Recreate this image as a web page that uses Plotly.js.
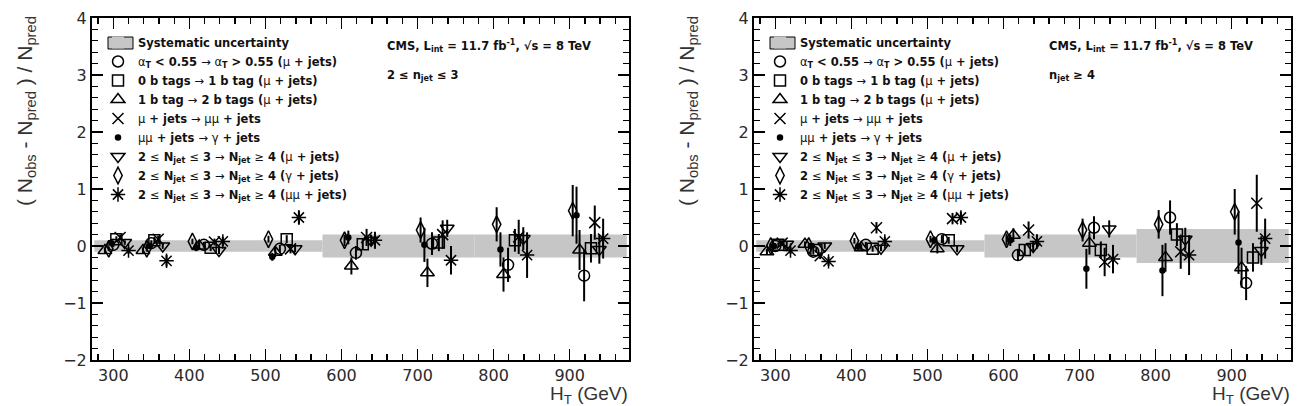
<!DOCTYPE html>
<html>
<head>
<meta charset="utf-8">
<script src="https://cdn.plot.ly/plotly-3.0.1.min.js"></script>
<style>
  html, body { margin: 0; padding: 0; background: #fff; }
  #chart { width: 1300px; height: 406px; }
</style>
</head>
<body>
<div id="chart"></div>
<script>
// H_T bins of the analysis (GeV): centres
const htBinCenters = [300, 350, 425, 525, 625, 725, 825, 925];
const narrowBinCount = 2; // the first two bins are 50 GeV wide, the rest 100 GeV

// Systematic uncertainty bands: H_T edges and half-heights per panel
const bandEdges = [275, 575, 775, 975];
const bandHalfLow = [0.1, 0.2, 0.2];   // 2 <= n_jet <= 3
const bandHalfHigh = [0.1, 0.2, 0.3];  // n_jet >= 4

// Closure tests (legend labels)
const N = (t) => '<span style="font-weight:normal">' + t + '</span>';
const testLabels = [
  N('α') + '<sub>T</sub> < 0.55 ' + N('→ α') + '<sub>T</sub> > 0.55 (' + N('μ') + ' + jets)',
  '0 b tags ' + N('→') + ' 1 b tag (' + N('μ') + ' + jets)',
  '1 b tag ' + N('→') + ' 2 b tags (' + N('μ') + ' + jets)',
  N('μ') + ' + jets ' + N('→ μμ') + ' + jets',
  N('μμ') + ' + jets ' + N('→ γ') + ' + jets',
  '2 ' + N('≤') + ' N<sub>jet</sub> ' + N('≤') + ' 3 ' + N('→') + ' N<sub>jet</sub> ' + N('≥') + ' 4 (' + N('μ') + ' + jets)',
  '2 ' + N('≤') + ' N<sub>jet</sub> ' + N('≤') + ' 3 ' + N('→') + ' N<sub>jet</sub> ' + N('≥') + ' 4 (' + N('γ') + ' + jets)',
  '2 ' + N('≤') + ' N<sub>jet</sub> ' + N('≤') + ' 3 ' + N('→') + ' N<sub>jet</sub> ' + N('≥') + ' 4 (' + N('μμ') + ' + jets)'
];
const testSymbols = ['circle-open', 'square-open', 'triangle-up-open', 'x-thin-open',
                     'circle', 'triangle-down-open', 'diamond-tall-open', 'asterisk-open'];
const testSizes = [11, 11, 12, 11, 5, 12, 12, 12];

// Horizontal offsets (GeV) of each test inside a bin, so the points do not overlap
const offsetNarrow = [0, 4, -11, 9, -2, 15, -6, 20];
const offsetWide = [-6, 3, -12, 8, -16, 14, -21, 19];

// (N_obs - N_pred) / N_pred per bin, 2 <= n_jet <= 3
const lowCircle    = [0.02, 0.05, 0.02, -0.05, -0.12, 0.04, -0.33, -0.52];
const lowSquare    = [0.12, 0.10, -0.03, 0.12, 0.03, 0.06, 0.10, -0.04];
const lowTriangle  = [-0.08, -0.08, 0.00, -0.11, -0.35, -0.47, -0.50, -0.07];
const lowCross     = [0.15, 0.12, 0.07, -0.05, 0.15, 0.20, 0.16, 0.41];
const lowDot       = [0.05, 0.00, -0.03, -0.19, 0.15, 0.02, -0.06, 0.54];
const lowTriDown   = [0.06, 0.00, -0.08, -0.05, 0.10, 0.31, 0.13, -0.06];
const lowDiamond   = [-0.05, -0.05, 0.08, 0.12, 0.10, 0.28, 0.38, 0.62];
const lowAsterisk  = [-0.08, -0.26, 0.08, 0.50, 0.10, -0.25, -0.16, 0.13];

const lowCircleErr   = [0.04, 0.05, 0.05, 0.07, 0.12, 0.20, 0.30, 0.45];
const lowSquareErr   = [0.05, 0.06, 0.06, 0.07, 0.10, 0.15, 0.20, 0.25];
const lowTriangleErr = [0.05, 0.05, 0.06, 0.08, 0.15, 0.25, 0.30, 0.35];
const lowCrossErr    = [0.05, 0.06, 0.06, 0.08, 0.15, 0.25, 0.30, 0.30];
const lowDotErr      = [0.04, 0.05, 0.06, 0.07, 0.12, 0.30, 0.30, 0.50];
const lowTriDownErr  = [0.04, 0.05, 0.06, 0.06, 0.10, 0.15, 0.20, 0.25];
const lowDiamondErr  = [0.04, 0.05, 0.05, 0.06, 0.10, 0.22, 0.30, 0.45];
const lowAsteriskErr = [0.06, 0.10, 0.08, 0.12, 0.15, 0.25, 0.40, 0.35];

// (N_obs - N_pred) / N_pred per bin, n_jet >= 4
const highCircle   = [0.00, -0.10, 0.02, 0.12, -0.16, 0.32, 0.50, -0.65];
const highSquare   = [0.02, -0.07, -0.05, 0.10, -0.07, -0.07, 0.20, -0.20];
const highTriangle = [-0.10, 0.03, -0.03, -0.05, 0.19, 0.05, -0.20, -0.38];
const highCross    = [0.05, -0.17, 0.32, 0.48, 0.28, -0.28, -0.10, 0.75];
const highDot      = [0.00, 0.00, -0.01, 0.10, 0.10, -0.40, -0.43, 0.06];
const highTriDown  = [0.03, 0.00, -0.04, -0.05, -0.01, 0.30, 0.12, -0.08];
const highDiamond  = [0.00, 0.00, 0.09, 0.12, 0.12, 0.28, 0.38, 0.60];
const highAsterisk = [-0.08, -0.27, 0.08, 0.50, 0.08, -0.23, -0.16, 0.13];

const highCircleErr   = [0.04, 0.05, 0.05, 0.07, 0.10, 0.20, 0.30, 0.30];
const highSquareErr   = [0.04, 0.05, 0.05, 0.06, 0.10, 0.15, 0.20, 0.25];
const highTriangleErr = [0.05, 0.05, 0.06, 0.08, 0.12, 0.20, 0.25, 0.35];
const highCrossErr    = [0.05, 0.06, 0.10, 0.10, 0.15, 0.25, 0.30, 0.50];
const highDotErr      = [0.04, 0.05, 0.06, 0.07, 0.10, 0.35, 0.45, 0.55];
const highTriDownErr  = [0.04, 0.05, 0.05, 0.06, 0.10, 0.15, 0.20, 0.25];
const highDiamondErr  = [0.04, 0.05, 0.05, 0.06, 0.10, 0.20, 0.25, 0.40];
const highAsteriskErr = [0.06, 0.08, 0.08, 0.10, 0.12, 0.25, 0.35, 0.35];

const lowValues  = [lowCircle, lowSquare, lowTriangle, lowCross, lowDot, lowTriDown, lowDiamond, lowAsterisk];
const lowErrors  = [lowCircleErr, lowSquareErr, lowTriangleErr, lowCrossErr, lowDotErr, lowTriDownErr, lowDiamondErr, lowAsteriskErr];
const highValues = [highCircle, highSquare, highTriangle, highCross, highDot, highTriDown, highDiamond, highAsterisk];
const highErrors = [highCircleErr, highSquareErr, highTriangleErr, highCrossErr, highDotErr, highTriDownErr, highDiamondErr, highAsteriskErr];

const FONT = 'Liberation Sans, Arial, Helvetica, sans-serif';
const WIDE_FONT = 'DejaVu Sans, Liberation Sans, sans-serif';
const BAND_COLOR = '#c6c6c6';
const W = 1300, H = 406;
const px = (v) => v / W;
const py = (v) => (H - v) / H;

function bandTrace(halfHeights, xa, ya, legendName) {
  const centres = [], widths = [], heights = [], bases = [];
  for (let i = 0; i < halfHeights.length; i++) {
    centres.push((bandEdges[i] + bandEdges[i + 1]) / 2);
    widths.push(bandEdges[i + 1] - bandEdges[i]);
    heights.push(2 * halfHeights[i]);
    bases.push(-halfHeights[i]);
  }
  return {
    type: 'bar', x: centres, y: heights, base: bases, width: widths,
    xaxis: xa, yaxis: ya, legend: legendName,
    name: 'Systematic uncertainty',
    marker: { color: BAND_COLOR, line: { width: 0 } },
    hoverinfo: 'skip'
  };
}

function testTraces(values, errors, xa, ya, legendName) {
  return values.map((vals, s) => ({
    type: 'scatter', mode: 'markers',
    x: htBinCenters.map((c, b) => c + (b < narrowBinCount ? offsetNarrow[s] : offsetWide[s])),
    y: vals,
    error_y: { type: 'data', array: errors[s], visible: true, color: '#000', thickness: 2, width: 0 },
    xaxis: xa, yaxis: ya, legend: legendName,
    name: testLabels[s],
    marker: {
      symbol: testSymbols[s], size: testSizes[s], color: '#000',
      line: { color: '#000', width: 1.5 }
    },
    cliponaxis: false
  }));
}

const data = [
  bandTrace(bandHalfLow, 'x', 'y', 'legend'),
  ...testTraces(lowValues, lowErrors, 'x', 'y', 'legend'),
  bandTrace(bandHalfHigh, 'x2', 'y2', 'legend2'),
  ...testTraces(highValues, highErrors, 'x2', 'y2', 'legend2')
];

const yDomain = [py(360), py(18)];
const leftDomain = [px(92), px(629)];
const rightDomain = [px(754), px(1291)];
const PANEL_SHIFT = 662;

function xAxis(domain, anchor) {
  return {
    domain: domain, anchor: anchor, range: [272, 978],
    tickmode: 'linear', tick0: 300, dtick: 100,
    ticks: 'inside', ticklen: 11, tickwidth: 1.3, tickcolor: '#000',
    minor: { dtick: 20, ticks: 'inside', ticklen: 6, tickwidth: 1.3, tickcolor: '#000' },
    showline: true, linewidth: 2, linecolor: '#000', mirror: 'allticks',
    showgrid: false, zeroline: false,
    tickfont: { family: WIDE_FONT, size: 16, color: '#2a2a2a' }
  };
}
function yAxis(domain, anchor) {
  return {
    domain: domain, anchor: anchor, range: [-2, 4],
    tickmode: 'linear', tick0: 0, dtick: 1,
    ticks: 'inside', ticklen: 11, tickwidth: 1.3, tickcolor: '#000',
    minor: { dtick: 0.2, ticks: 'inside', ticklen: 6, tickwidth: 1.3, tickcolor: '#000' },
    showline: true, linewidth: 2, linecolor: '#000', mirror: 'allticks',
    showgrid: false, zeroline: false,
    tickfont: { family: WIDE_FONT, size: 16, color: '#2a2a2a' }
  };
}

function legendBox(xLeft) {
  return {
    x: px(xLeft), xanchor: 'left', y: py(28), yanchor: 'top',
    bgcolor: 'rgba(0,0,0,0)', borderwidth: 0,
    font: { family: WIDE_FONT, size: 11.5, color: '#111', weight: 'bold' },
    traceorder: 'normal', tracegroupgap: 0, itemclick: false
  };
}

// Outlined swatch of the uncertainty band in each legend
function swatch(offset) {
  return {
    type: 'rect', xref: 'paper', yref: 'paper', layer: 'above',
    x0: px(108 + offset), x1: px(133 + offset), y0: py(49), y1: py(37),
    fillcolor: BAND_COLOR, line: { color: '#000', width: 1 }
  };
}

const yTitle = '( N<sub>obs</sub> - N<sub>pred</sub> ) / N<sub>pred</sub>';
const xTitle = 'H<sub>T</sub> (GeV)';
const cmsText = 'CMS, L<sub>int</sub> = 11.7 fb<sup>-1</sup>, √s = 8 TeV';

function panelNotes(offset, jetText) {
  return [
    { text: yTitle, xref: 'paper', yref: 'paper', x: px(26 + offset), y: py(14),
      xanchor: 'center', yanchor: 'top', textangle: -90, showarrow: false,
      font: { family: FONT, size: 21, color: '#333' } },
    { text: xTitle, xref: 'paper', yref: 'paper', x: px(630 + offset), y: py(395),
      xanchor: 'right', yanchor: 'middle', showarrow: false,
      font: { family: FONT, size: 19, color: '#333' } },
    { text: '<b>' + cmsText + '</b>', xref: 'paper', yref: 'paper', x: px(385 + offset), y: py(46),
      xanchor: 'left', yanchor: 'middle', showarrow: false,
      font: { family: WIDE_FONT, size: 11.5, color: '#111' } },
    { text: '<b>' + jetText + '</b>', xref: 'paper', yref: 'paper', x: px(385 + offset), y: py(75),
      xanchor: 'left', yanchor: 'middle', showarrow: false,
      font: { family: WIDE_FONT, size: 11.5, color: '#111' } }
  ];
}

const layout = {
  width: W, height: H,
  margin: { l: 0, r: 0, t: 0, b: 0 },
  paper_bgcolor: '#fff', plot_bgcolor: 'rgba(0,0,0,0)',
  showlegend: true,
  barmode: 'overlay',
  xaxis: xAxis(leftDomain, 'y'),
  yaxis: yAxis(yDomain, 'x'),
  xaxis2: xAxis(rightDomain, 'y2'),
  yaxis2: yAxis(yDomain, 'x2'),
  legend: legendBox(98),
  legend2: legendBox(98 + PANEL_SHIFT),
  shapes: [swatch(0), swatch(PANEL_SHIFT)],
  annotations: [
    ...panelNotes(0, '2 ≤ n<sub>jet</sub> ≤ 3'),
    ...panelNotes(PANEL_SHIFT, 'n<sub>jet</sub> ≥ 4')
  ]
};

Plotly.newPlot('chart', data, layout, { staticPlot: true, displayModeBar: false });
</script>
</body>
</html>
